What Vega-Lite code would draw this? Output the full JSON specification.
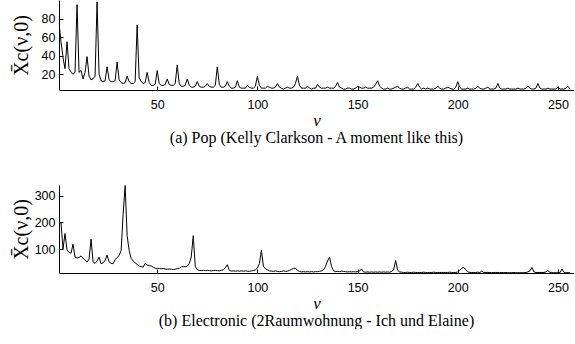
{
  "$schema": "https://vega.github.io/schema/vega-lite/v6.json",
  "padding": {"left": 11, "top": 0, "right": 0, "bottom": 0},
  "spacing": 39,
  "config": {
    "view": {"stroke": null},
    "axis": {"domainColor": "black", "tickColor": "black", "labelColor": "black", "titleColor": "black", "grid": false, "labelFont": "Liberation Sans", "labelFontSize": 12.5, "tickSize": -4, "domainWidth": 1, "tickWidth": 1, "titleFont": "Liberation Serif", "titleFontWeight": "normal"},
    "axisX": {"labelPadding": 12, "titleFontStyle": "italic", "titleFontSize": 17, "titlePadding": 2},
    "axisY": {"labelPadding": 8, "titleFontSize": 20, "titlePadding": 2, "minExtent": 26, "maxExtent": 26},
    "title": {"font": "Liberation Serif", "fontSize": 16, "fontWeight": "normal", "color": "black", "orient": "bottom", "offset": 1}
  },
  "datasets": {
    "pop": [
      {"v":1,"x":75},{"v":2,"x":55},{"v":3,"x":38},{"v":4,"x":26},{"v":5,"x":55},{"v":6,"x":26},{"v":7,"x":22},{"v":8,"x":20},{"v":9,"x":22},{"v":10,"x":95},
      {"v":11,"x":22},{"v":12,"x":24},{"v":13,"x":15},{"v":14,"x":22},{"v":15,"x":39},{"v":16,"x":18},{"v":17,"x":14},{"v":18,"x":15},{"v":19,"x":18},{"v":20,"x":98},
      {"v":21,"x":20},{"v":22,"x":13},{"v":23,"x":12},{"v":24,"x":13},{"v":25,"x":28},{"v":26,"x":14},{"v":27,"x":12},{"v":28,"x":12},{"v":29,"x":13},{"v":30,"x":33},
      {"v":31,"x":14},{"v":32,"x":11},{"v":33,"x":10},{"v":34,"x":11},{"v":35,"x":18},{"v":36,"x":12},{"v":37,"x":10},{"v":38,"x":10},{"v":39,"x":12},{"v":40,"x":73},
      {"v":41,"x":16},{"v":42,"x":12},{"v":43,"x":10},{"v":44,"x":11},{"v":45,"x":22},{"v":46,"x":11},{"v":47,"x":8},{"v":48,"x":8},{"v":49,"x":9},{"v":50,"x":24},
      {"v":51,"x":10},{"v":52,"x":8},{"v":53,"x":8},{"v":54,"x":9},{"v":55,"x":15},{"v":56,"x":9},{"v":57,"x":8},{"v":58,"x":8},{"v":59,"x":10},{"v":60,"x":30},
      {"v":61,"x":10},{"v":62,"x":7},{"v":63,"x":7},{"v":64,"x":8},{"v":65,"x":15},{"v":66,"x":8},{"v":67,"x":6},{"v":68,"x":6},{"v":69,"x":7},{"v":70,"x":12},
      {"v":71,"x":7},{"v":72,"x":6},{"v":73,"x":6},{"v":74,"x":7},{"v":75,"x":10},{"v":76,"x":7},{"v":77,"x":6},{"v":78,"x":6},{"v":79,"x":8},{"v":80,"x":28},
      {"v":81,"x":9},{"v":82,"x":6},{"v":83,"x":6},{"v":84,"x":7},{"v":85,"x":12},{"v":86,"x":7},{"v":87,"x":5},{"v":88,"x":5},{"v":89,"x":6},{"v":90,"x":13},
      {"v":91,"x":6},{"v":92,"x":5},{"v":93,"x":5},{"v":94,"x":5},{"v":95,"x":8},{"v":96,"x":6},{"v":97,"x":5},{"v":98,"x":5},{"v":99,"x":7},{"v":100,"x":18},
      {"v":101,"x":8},{"v":102,"x":5},{"v":103,"x":5},{"v":104,"x":5},{"v":105,"x":7},{"v":106,"x":6},{"v":107,"x":5},{"v":108,"x":5},{"v":109,"x":6},{"v":110,"x":10},
      {"v":111,"x":6},{"v":112,"x":5},{"v":113,"x":4},{"v":114,"x":5},{"v":115,"x":6},{"v":116,"x":5},{"v":117,"x":5},{"v":118,"x":6},{"v":119,"x":10},{"v":120,"x":18},
      {"v":121,"x":8},{"v":122,"x":5},{"v":123,"x":5},{"v":124,"x":5},{"v":125,"x":7},{"v":126,"x":5},{"v":127,"x":4},{"v":128,"x":5},{"v":129,"x":5},{"v":130,"x":9},
      {"v":131,"x":6},{"v":132,"x":5},{"v":133,"x":5},{"v":134,"x":5},{"v":135,"x":6},{"v":136,"x":5},{"v":137,"x":5},{"v":138,"x":5},{"v":139,"x":7},{"v":140,"x":11},
      {"v":141,"x":6},{"v":142,"x":5},{"v":143,"x":4},{"v":144,"x":4},{"v":145,"x":5},{"v":146,"x":5},{"v":147,"x":4},{"v":148,"x":4},{"v":149,"x":5},{"v":150,"x":7},
      {"v":151,"x":6},{"v":152,"x":5},{"v":153,"x":5},{"v":154,"x":6},{"v":155,"x":5},{"v":156,"x":5},{"v":157,"x":5},{"v":158,"x":6},{"v":159,"x":9},{"v":160,"x":13},
      {"v":161,"x":7},{"v":162,"x":5},{"v":163,"x":4},{"v":164,"x":4},{"v":165,"x":5},{"v":166,"x":4},{"v":167,"x":4},{"v":168,"x":5},{"v":169,"x":6},{"v":170,"x":7},
      {"v":171,"x":5},{"v":172,"x":4},{"v":173,"x":4},{"v":174,"x":5},{"v":175,"x":6},{"v":176,"x":4},{"v":177,"x":4},{"v":178,"x":4},{"v":179,"x":6},{"v":180,"x":10},
      {"v":181,"x":6},{"v":182,"x":4},{"v":183,"x":5},{"v":184,"x":4},{"v":185,"x":5},{"v":186,"x":4},{"v":187,"x":4},{"v":188,"x":4},{"v":189,"x":5},{"v":190,"x":7},
      {"v":191,"x":5},{"v":192,"x":4},{"v":193,"x":4},{"v":194,"x":5},{"v":195,"x":6},{"v":196,"x":5},{"v":197,"x":4},{"v":198,"x":4},{"v":199,"x":6},{"v":200,"x":12},
      {"v":201,"x":6},{"v":202,"x":4},{"v":203,"x":4},{"v":204,"x":4},{"v":205,"x":5},{"v":206,"x":4},{"v":207,"x":4},{"v":208,"x":4},{"v":209,"x":5},{"v":210,"x":7},
      {"v":211,"x":5},{"v":212,"x":4},{"v":213,"x":4},{"v":214,"x":5},{"v":215,"x":6},{"v":216,"x":4},{"v":217,"x":4},{"v":218,"x":4},{"v":219,"x":5},{"v":220,"x":10},
      {"v":221,"x":5},{"v":222,"x":4},{"v":223,"x":4},{"v":224,"x":4},{"v":225,"x":5},{"v":226,"x":4},{"v":227,"x":4},{"v":228,"x":4},{"v":229,"x":4},{"v":230,"x":5},
      {"v":231,"x":4},{"v":232,"x":4},{"v":233,"x":4},{"v":234,"x":5},{"v":235,"x":7},{"v":236,"x":5},{"v":237,"x":4},{"v":238,"x":4},{"v":239,"x":5},{"v":240,"x":10},
      {"v":241,"x":5},{"v":242,"x":4},{"v":243,"x":4},{"v":244,"x":4},{"v":245,"x":5},{"v":246,"x":4},{"v":247,"x":4},{"v":248,"x":4},{"v":249,"x":4},{"v":250,"x":6},
      {"v":251,"x":4},{"v":252,"x":4},{"v":253,"x":4},{"v":254,"x":5},{"v":255,"x":7},{"v":256,"x":4}
    ],
    "elec": [
      {"v":1,"x":200},{"v":2,"x":198},{"v":3,"x":100},{"v":4,"x":158},{"v":5,"x":95},{"v":6,"x":88},{"v":7,"x":84},{"v":8,"x":118},{"v":9,"x":70},{"v":10,"x":66},
      {"v":11,"x":68},{"v":12,"x":74},{"v":13,"x":66},{"v":14,"x":58},{"v":15,"x":51},{"v":16,"x":62},{"v":17,"x":137},{"v":18,"x":52},{"v":19,"x":46},{"v":20,"x":55},
      {"v":21,"x":70},{"v":22,"x":45},{"v":23,"x":48},{"v":24,"x":58},{"v":25,"x":77},{"v":26,"x":52},{"v":27,"x":46},{"v":28,"x":45},{"v":29,"x":60},{"v":30,"x":68},
      {"v":31,"x":75},{"v":32,"x":95},{"v":33,"x":230},{"v":34,"x":338},{"v":35,"x":150},{"v":36,"x":95},{"v":37,"x":65},{"v":38,"x":55},{"v":39,"x":48},{"v":40,"x":42},
      {"v":41,"x":36},{"v":42,"x":34},{"v":43,"x":32},{"v":44,"x":46},{"v":45,"x":40},{"v":46,"x":38},{"v":47,"x":36},{"v":48,"x":32},{"v":49,"x":28},{"v":50,"x":27},
      {"v":51,"x":27},{"v":52,"x":26},{"v":53,"x":27},{"v":54,"x":25},{"v":55,"x":24},{"v":56,"x":25},{"v":57,"x":24},{"v":58,"x":23},{"v":59,"x":24},{"v":60,"x":26},
      {"v":61,"x":28},{"v":62,"x":32},{"v":63,"x":35},{"v":64,"x":33},{"v":65,"x":36},{"v":66,"x":45},{"v":67,"x":70},{"v":68,"x":150},{"v":69,"x":35},{"v":70,"x":22},
      {"v":71,"x":20},{"v":72,"x":19},{"v":73,"x":20},{"v":74,"x":19},{"v":75,"x":20},{"v":76,"x":19},{"v":77,"x":18},{"v":78,"x":19},{"v":79,"x":20},{"v":80,"x":19},
      {"v":81,"x":18},{"v":82,"x":20},{"v":83,"x":22},{"v":84,"x":30},{"v":85,"x":41},{"v":86,"x":20},{"v":87,"x":17},{"v":88,"x":18},{"v":89,"x":17},{"v":90,"x":18},
      {"v":91,"x":17},{"v":92,"x":18},{"v":93,"x":17},{"v":94,"x":18},{"v":95,"x":17},{"v":96,"x":16},{"v":97,"x":18},{"v":98,"x":19},{"v":99,"x":22},{"v":100,"x":28},
      {"v":101,"x":45},{"v":102,"x":95},{"v":103,"x":35},{"v":104,"x":26},{"v":105,"x":22},{"v":106,"x":18},{"v":107,"x":17},{"v":108,"x":16},{"v":109,"x":18},{"v":110,"x":16},
      {"v":111,"x":15},{"v":112,"x":16},{"v":113,"x":18},{"v":114,"x":16},{"v":115,"x":17},{"v":116,"x":20},{"v":117,"x":24},{"v":118,"x":27},{"v":119,"x":28},{"v":120,"x":20},
      {"v":121,"x":16},{"v":122,"x":14},{"v":123,"x":15},{"v":124,"x":14},{"v":125,"x":15},{"v":126,"x":14},{"v":127,"x":15},{"v":128,"x":14},{"v":129,"x":15},{"v":130,"x":15},
      {"v":131,"x":16},{"v":132,"x":18},{"v":133,"x":22},{"v":134,"x":35},{"v":135,"x":55},{"v":136,"x":70},{"v":137,"x":35},{"v":138,"x":18},{"v":139,"x":15},{"v":140,"x":16},
      {"v":141,"x":15},{"v":142,"x":17},{"v":143,"x":16},{"v":144,"x":15},{"v":145,"x":14},{"v":146,"x":15},{"v":147,"x":14},{"v":148,"x":15},{"v":149,"x":14},{"v":150,"x":15},
      {"v":151,"x":18},{"v":152,"x":25},{"v":153,"x":14},{"v":154,"x":13},{"v":155,"x":14},{"v":156,"x":13},{"v":157,"x":14},{"v":158,"x":13},{"v":159,"x":14},{"v":160,"x":13},
      {"v":161,"x":14},{"v":162,"x":13},{"v":163,"x":14},{"v":164,"x":13},{"v":165,"x":14},{"v":166,"x":13},{"v":167,"x":16},{"v":168,"x":22},{"v":169,"x":57},{"v":170,"x":20},
      {"v":171,"x":14},{"v":172,"x":13},{"v":173,"x":12},{"v":174,"x":12},{"v":175,"x":13},{"v":176,"x":12},{"v":177,"x":12},{"v":178,"x":13},{"v":179,"x":12},{"v":180,"x":12},
      {"v":181,"x":12},{"v":182,"x":12},{"v":183,"x":13},{"v":184,"x":12},{"v":185,"x":12},{"v":186,"x":12},{"v":187,"x":12},{"v":188,"x":13},{"v":189,"x":12},{"v":190,"x":12},
      {"v":191,"x":12},{"v":192,"x":12},{"v":193,"x":12},{"v":194,"x":12},{"v":195,"x":12},{"v":196,"x":13},{"v":197,"x":12},{"v":198,"x":12},{"v":199,"x":12},{"v":200,"x":14},
      {"v":201,"x":20},{"v":202,"x":28},{"v":203,"x":31},{"v":204,"x":22},{"v":205,"x":14},{"v":206,"x":12},{"v":207,"x":12},{"v":208,"x":12},{"v":209,"x":12},{"v":210,"x":13},
      {"v":211,"x":12},{"v":212,"x":17},{"v":213,"x":12},{"v":214,"x":12},{"v":215,"x":12},{"v":216,"x":12},{"v":217,"x":11},{"v":218,"x":12},{"v":219,"x":12},{"v":220,"x":12},
      {"v":221,"x":11},{"v":222,"x":12},{"v":223,"x":11},{"v":224,"x":12},{"v":225,"x":11},{"v":226,"x":11},{"v":227,"x":11},{"v":228,"x":12},{"v":229,"x":11},{"v":230,"x":11},
      {"v":231,"x":11},{"v":232,"x":11},{"v":233,"x":11},{"v":234,"x":12},{"v":235,"x":14},{"v":236,"x":18},{"v":237,"x":31},{"v":238,"x":14},{"v":239,"x":12},{"v":240,"x":12},
      {"v":241,"x":12},{"v":242,"x":12},{"v":243,"x":12},{"v":244,"x":14},{"v":245,"x":19},{"v":246,"x":12},{"v":247,"x":11},{"v":248,"x":11},{"v":249,"x":11},{"v":250,"x":11},
      {"v":251,"x":11},{"v":252,"x":25},{"v":253,"x":12},{"v":254,"x":11},{"v":255,"x":11},{"v":256,"x":11}
    ]
  },
  "vconcat": [
    {
      "width": 515,
      "height": 90,
      "data": {"name": "pop"},
      "title": {"text": "(a)  Pop (Kelly Clarkson - A moment like this)"},
      "mark": {"type": "line", "color": "black", "strokeWidth": 1, "clip": true},
      "encoding": {
        "x": {"field": "v", "type": "quantitative", "scale": {"domain": [1, 258], "nice": false, "zero": false}, "axis": {"values": [50, 100, 150, 200, 250], "title": "ν"}},
        "y": {"field": "x", "type": "quantitative", "scale": {"domain": [3, 100], "nice": false, "zero": false}, "axis": {"values": [20, 40, 60, 80], "title": "X̄c(ν,0)"}}
      }
    },
    {
      "width": 515,
      "height": 88,
      "data": {"name": "elec"},
      "title": {"text": "(b)  Electronic (2Raumwohnung - Ich und Elaine)"},
      "mark": {"type": "line", "color": "black", "strokeWidth": 1, "clip": true},
      "encoding": {
        "x": {"field": "v", "type": "quantitative", "scale": {"domain": [1, 258], "nice": false, "zero": false}, "axis": {"values": [50, 100, 150, 200, 250], "title": "ν"}},
        "y": {"field": "x", "type": "quantitative", "scale": {"domain": [10, 340], "nice": false, "zero": false}, "axis": {"values": [100, 200, 300], "title": "X̄c(ν,0)"}}
      }
    }
  ]
}
